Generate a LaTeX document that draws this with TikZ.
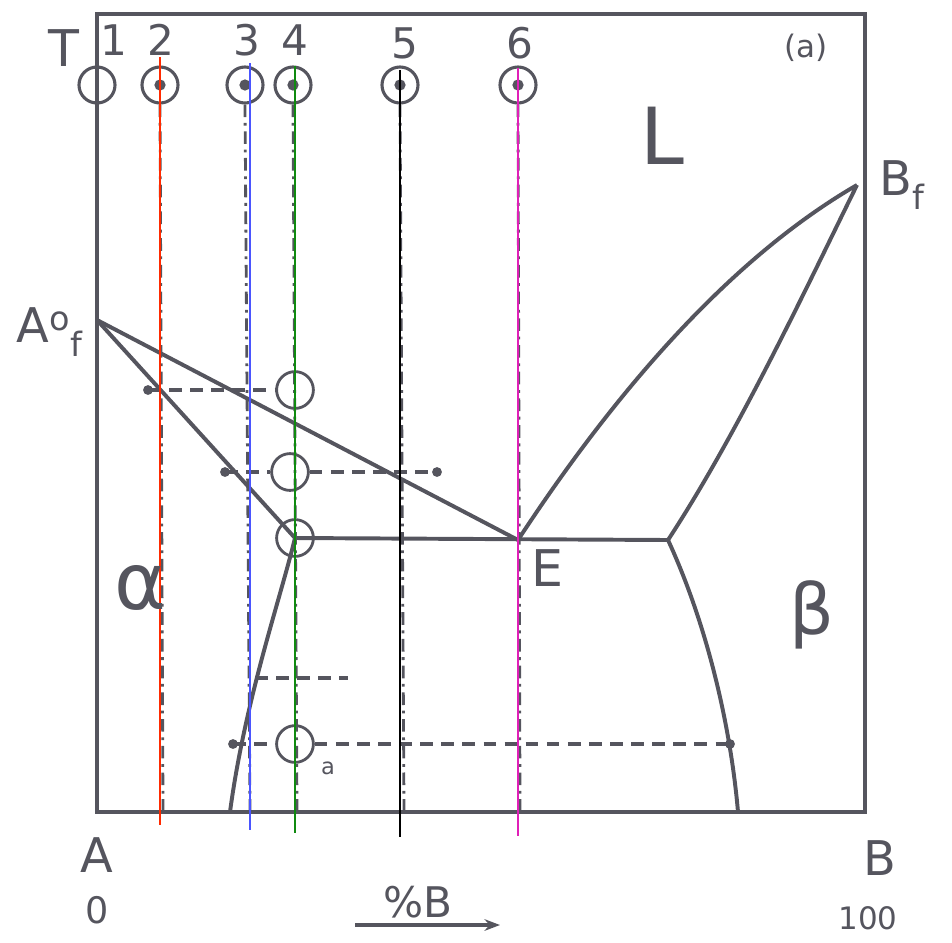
\documentclass[tikz,border=0pt]{standalone}
\usepackage{fontspec}
\setmainfont{DejaVu Sans}
\usetikzlibrary{arrows.meta}
\definecolor{pencil}{HTML}{55555E}
\definecolor{penred}{HTML}{FF2A00}
\definecolor{penblue}{HTML}{4A55FF}
\definecolor{pengreen}{HTML}{108A10}
\definecolor{penpink}{HTML}{E020B8}
\begin{document}
\begin{tikzpicture}[x=0.025cm,y=-0.025cm,
  curve/.style={draw=pencil, line width=2.8pt},
  guide/.style={draw=pencil, line width=2pt, dash pattern=on 9pt off 4pt on 2pt off 4pt},
  tie/.style={draw=pencil, line width=2.2pt, dash pattern=on 9pt off 6pt},
  topmark/.style={circle, draw=pencil, line width=2.2pt, minimum size=0.9cm, inner sep=0pt},
  ring/.style={circle, draw=pencil, line width=2pt, minimum size=0.92cm, inner sep=0pt},
  overlay/.style={line width=1.3pt},
  lbl/.style={text=pencil, inner sep=0pt, font=\fontsize{30}{30}\selectfont}]
\useasboundingbox (0,0) rectangle (952,942);
\draw[curve, line width=2.4pt] (97,14) rectangle (865,812);
\coordinate (Af) at (97,320);
\coordinate (Bf) at (857,185);
\coordinate (E) at (518,540);
\coordinate (Ea) at (295,538);
\coordinate (Eb) at (668,540);
\coordinate (Sa) at (230,812);
\coordinate (Sb) at (738,812);
\draw[curve] (Af) -- (E);
\draw[curve] (Af) -- (Ea);
\draw[curve] (Ea) -- (Eb);
\draw[curve] (E) .. controls (590,430) and (710,270) .. (Bf);
\draw[curve] (Eb) .. controls (740,430) and (810,280) .. (Bf);
\draw[curve] (Eb) .. controls (705,620) and (730,720) .. (Sb);
\draw[curve] (Ea) .. controls (280,600) and (245,700) .. (Sa);
\node[topmark] (c1) at (97,85) {};
\node[topmark] (c2) at (160,85) {};
\node[topmark] (c3) at (245,85) {};
\node[topmark] (c4) at (293,85) {};
\node[topmark] (c5) at (400,85) {};
\node[topmark] (c6) at (518,85) {};
\foreach \c in {c2,c3,c4,c5,c6}
  \fill[pencil] (\c.center) circle (4pt);
\foreach \c/\x in {c2/163,c3/250,c4/297,c5/404,c6/520}
  \draw[guide] (\c.south) -- (\x,812);
\node[ring] (m1) at (295,390) {};
\node[ring] (m2) at (290,472) {};
\node[ring] (m3) at (295,538) {};
\node[ring] (m4) at (295,744) {};
\coordinate (p1) at (148,390);
\coordinate (p2) at (225,472);
\coordinate (p3) at (437,472);
\coordinate (p4) at (255,678);
\coordinate (p5) at (348,678);
\coordinate (p6) at (233,744);
\coordinate (p7) at (730,744);
\draw[tie] (p1) -- (m1.west);
\draw[tie] (p2) -- (m2.west);
\draw[tie] (m2.east) -- (p3);
\draw[tie] (p4) -- (p5);
\draw[tie] (p6) -- (m4.west);
\draw[tie] (m4.east) -- (p7);
\foreach \p in {p1,p2,p3,p6,p7}
  \fill[pencil] (\p) circle (3.5pt);
\coordinate (r1) at (160,57);
\coordinate (r2) at (160,825);
\coordinate (b1) at (250,63);
\coordinate (b2) at (250,830);
\coordinate (g1) at (295,66);
\coordinate (g2) at (295,833);
\coordinate (k1) at (400,70);
\coordinate (k2) at (400,837);
\coordinate (q1) at (518,68);
\coordinate (q2) at (518,836);
\draw[overlay, penred] (r1) -- (r2);
\draw[overlay, penblue] (b1) -- (b2);
\draw[overlay, pengreen] (g1) -- (g2);
\draw[overlay, black] (k1) -- (k2);
\draw[overlay, penpink] (q1) -- (q2);
\node[lbl, font=\fontsize{36}{36}\selectfont] (tT) at (64,48) {T};
\node[lbl] (t1) at (114,40) {1};
\node[lbl] (t2) at (161,40) {2};
\node[lbl] (t3) at (247,40) {3};
\node[lbl] (t4) at (295,40) {4};
\node[lbl] (t5) at (405,43) {5};
\node[lbl] (t6) at (520,43) {6};
\node[lbl, font=\fontsize{22}{22}\selectfont] (fig) at (806,48) {(a)};
\node[lbl, font=\fontsize{56}{56}\selectfont] (liq) at (662,136) {L};
\node[lbl, font=\fontsize{34}{34}\selectfont] (lAf) at (50,332) {A\textsuperscript{o}\textsubscript{f}};
\node[lbl, font=\fontsize{34}{34}\selectfont] (lBf) at (902,185) {B\textsubscript{f}};
\node[lbl, font=\fontsize{56}{56}\selectfont] (alp) at (140,588) {α};
\node[lbl, font=\fontsize{50}{50}\selectfont] (bet) at (812,615) {β};
\node[lbl, font=\fontsize{36}{36}\selectfont] (lE) at (547,568) {E};
\node[lbl, font=\fontsize{16}{16}\selectfont] (la) at (328,768) {a};
\node[lbl, font=\fontsize{34}{34}\selectfont] (lA) at (97,855) {A};
\node[lbl, font=\fontsize{34}{34}\selectfont] (lB) at (880,858) {B};
\node[lbl, font=\fontsize{26}{26}\selectfont] (l0) at (97,910) {0};
\node[lbl, font=\fontsize{22}{22}\selectfont] (l100) at (868,918) {100};
\node[lbl, font=\fontsize{30}{30}\selectfont] (pB) at (418,902) {\%B};
\coordinate (ax1) at (355,925);
\coordinate (ax2) at (500,925);
\draw[draw=pencil, line width=2.2pt, -{Stealth[length=11pt]}] (ax1) -- (ax2);
\end{tikzpicture}
\end{document}
